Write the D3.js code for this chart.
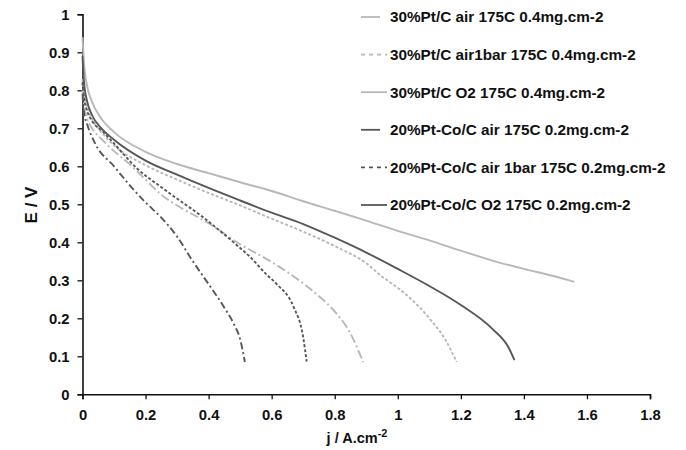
<!DOCTYPE html>
<html>
<head>
<meta charset="utf-8">
<script src="https://cdn.jsdelivr.net/npm/d3@7"></script>
<style>
  body { margin: 0; background: #fff; }
  text { font-family: "Liberation Sans", Arial, sans-serif; font-weight: bold; fill: #111; }
</style>
</head>
<body>
<svg id="chart"></svg>
<script>
// Data: current density j (A.cm-2) and cell voltage E (V)
const ptAir = [[0,0.83],[0.005,0.79],[0.015,0.755],[0.03,0.725],[0.06,0.69],[0.1,0.655],[0.2,0.603],[0.3,0.565],[0.4,0.53],[0.5,0.497],[0.6,0.462],[0.7,0.428],[0.8,0.39],[0.9,0.345],[0.95,0.31],[1.0,0.28],[1.05,0.245],[1.1,0.2],[1.15,0.145],[1.187,0.085]];
const ptAir1bar = [[0,0.8],[0.005,0.76],[0.015,0.725],[0.03,0.7],[0.06,0.672],[0.1,0.64],[0.15,0.605],[0.2,0.565],[0.25,0.525],[0.3,0.497],[0.4,0.45],[0.5,0.395],[0.6,0.348],[0.7,0.292],[0.75,0.258],[0.8,0.218],[0.85,0.16],[0.89,0.085]];
const ptO2 = [[0,0.94],[0.005,0.87],[0.015,0.81],[0.03,0.77],[0.06,0.725],[0.1,0.69],[0.2,0.638],[0.3,0.606],[0.4,0.582],[0.5,0.558],[0.6,0.535],[0.7,0.508],[0.8,0.483],[0.9,0.457],[1.0,0.43],[1.1,0.405],[1.2,0.378],[1.3,0.352],[1.4,0.33],[1.5,0.31],[1.56,0.296]];
const coAir = [[0,0.82],[0.005,0.78],[0.015,0.745],[0.03,0.72],[0.066,0.69],[0.1,0.66],[0.172,0.595],[0.25,0.545],[0.32,0.503],[0.373,0.472],[0.426,0.437],[0.5,0.385],[0.531,0.362],[0.584,0.315],[0.616,0.29],[0.669,0.231],[0.7,0.15],[0.711,0.086]];
const coAir1bar = [[0,0.79],[0.005,0.74],[0.015,0.71],[0.04,0.66],[0.1,0.6],[0.15,0.55],[0.2,0.505],[0.25,0.465],[0.3,0.415],[0.35,0.35],[0.4,0.29],[0.45,0.228],[0.48,0.185],[0.5,0.145],[0.515,0.085]];
const coO2 = [[0,0.89],[0.005,0.82],[0.015,0.77],[0.03,0.735],[0.06,0.7],[0.1,0.67],[0.2,0.615],[0.3,0.578],[0.4,0.543],[0.5,0.51],[0.6,0.478],[0.7,0.448],[0.8,0.412],[0.9,0.373],[1.0,0.33],[1.1,0.285],[1.2,0.235],[1.3,0.172],[1.35,0.125],[1.37,0.09]];

const seriesNames = [
  "30%Pt/C air 175C 0.4mg.cm-2",
  "30%Pt/C air1bar 175C 0.4mg.cm-2",
  "30%Pt/C O2 175C 0.4mg.cm-2",
  "20%Pt-Co/C air 175C 0.2mg.cm-2",
  "20%Pt-Co/C air 1bar 175C 0.2mg.cm-2",
  "20%Pt-Co/C O2 175C 0.2mg.cm-2",
];
const seriesValues = [ptAir, ptAir1bar, ptO2, coAir, coAir1bar, coO2];
const xTicks = [0, 0.2, 0.4, 0.6, 0.8, 1, 1.2, 1.4, 1.6, 1.8];
const yTicks = [0, 0.1, 0.2, 0.3, 0.4, 0.5, 0.6, 0.7, 0.8, 0.9, 1];

const light = "#b8b8b8";
const dark = "#575757";
// line style per series, and the legend sample as drawn in the original
const lineStyle = [
  { color: light, dash: "3,2" },
  { color: light, dash: "9,3,2,3" },
  { color: light, dash: null },
  { color: dark, dash: "3,2" },
  { color: dark, dash: "7,3,2,3" },
  { color: dark, dash: null },
];
const legendStyle = [
  { color: light, dash: null, x0: 361, x1: 380 },
  { color: light, dash: "4,4", x0: 361, x1: 387 },
  { color: light, dash: null, x0: 361, x1: 387 },
  { color: dark, dash: null, x0: 361, x1: 380 },
  { color: dark, dash: "4,4", x0: 361, x1: 387 },
  { color: dark, dash: null, x0: 361, x1: 387 },
];

const width = 686;
const height = 450;
const margin = { top: 14.3, right: 36, bottom: 55.7, left: 82.5 };
const plotW = width - margin.left - margin.right;
const plotH = height - margin.top - margin.bottom;

const svg = d3.select("#chart").attr("width", width).attr("height", height);
const g = svg.append("g").attr("transform", `translate(${margin.left},${margin.top})`);

const x = d3.scaleLinear().domain([0, 1.8]).range([0, plotW]);
const y = d3.scaleLinear().domain([0, 1]).range([plotH, 0]);

// Axes
const xAxis = g.append("g")
  .attr("transform", `translate(0,${plotH})`)
  .call(d3.axisBottom(x).tickValues(xTicks).tickFormat(d3.format("")).tickSize(5).tickPadding(10));
const yAxis = g.append("g")
  .call(d3.axisLeft(y).tickValues(yTicks).tickFormat(d3.format("")).tickSize(5).tickPadding(8));

[xAxis, yAxis].forEach((a) => {
  a.select(".domain").attr("stroke", "#111").attr("stroke-width", 1.6);
  a.selectAll(".tick line").attr("stroke", "#111").attr("stroke-width", 1.3);
  a.selectAll(".tick text").style("font-size", "14.8px").attr("fill", "#111");
});

// Curves
const line = d3.line()
  .x((d) => x(d[0]))
  .y((d) => y(d[1]))
  .curve(d3.curveMonotoneX);

g.selectAll(".curve")
  .data(seriesValues)
  .enter()
  .append("path")
  .attr("class", "curve")
  .attr("d", line)
  .attr("fill", "none")
  .attr("stroke", (d, i) => lineStyle[i].color)
  .attr("stroke-width", 1.9)
  .attr("stroke-dasharray", (d, i) => lineStyle[i].dash);

// Legend
const legend = svg.selectAll(".legend")
  .data(seriesNames)
  .enter()
  .append("g")
  .attr("class", "legend")
  .attr("transform", (d, i) => `translate(0,${17 + i * 37.6})`);

legend.append("line")
  .attr("x1", (d, i) => legendStyle[i].x0)
  .attr("x2", (d, i) => legendStyle[i].x1)
  .attr("stroke", (d, i) => legendStyle[i].color)
  .attr("stroke-width", 1.8)
  .attr("stroke-dasharray", (d, i) => legendStyle[i].dash);

legend.append("text")
  .attr("x", 390)
  .attr("dy", "0.35em")
  .style("font-size", "15.3px")
  .text((d) => d);

// Axis titles
svg.append("text")
  .attr("transform", "translate(37,205) rotate(-90)")
  .attr("text-anchor", "middle")
  .style("font-size", "17px")
  .text("E / V");

const xTitle = svg.append("text")
  .attr("x", 357)
  .attr("y", 443)
  .attr("text-anchor", "middle")
  .style("font-size", "14.5px");
xTitle.append("tspan").text("j / A.cm");
xTitle.append("tspan").attr("dy", -6).style("font-size", "11px").text("-2");
</script>
</body>
</html>
